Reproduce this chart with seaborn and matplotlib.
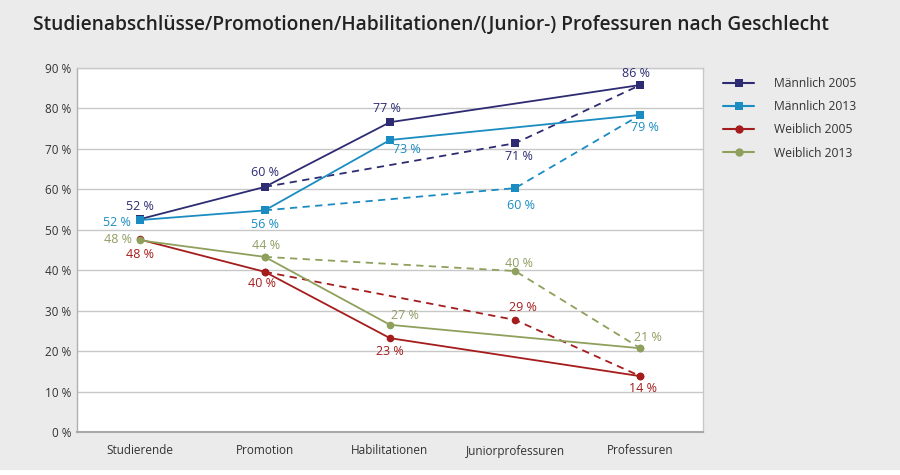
import matplotlib
matplotlib.use("Agg")
import matplotlib.pyplot as plt
from matplotlib.lines import Line2D
from matplotlib.patches import Rectangle
import seaborn as sns
import pandas as pd

# categories on the x axis
categories = ["Studierende", "Promotion", "Habilitationen", "Juniorprofessuren", "Professuren"]

# plotted values (%)
m2005 = [52.6, 60.6, 76.6, 71.4, 85.8]
m2013 = [52.4, 54.8, 72.2, 60.3, 78.4]
w2005 = [47.6, 39.6, 23.2, 27.7, 13.8]
w2013 = [47.4, 43.3, 26.5, 39.8, 20.7]

# printed data labels
m2005_lbl = [52, 60, 77, 71, 86]
m2013_lbl = [52, 56, 73, 60, 79]
w2005_lbl = [48, 40, 23, 29, 14]
w2013_lbl = [48, 44, 27, 40, 21]

series = ["Männlich 2005", "Männlich 2013", "Weiblich 2005", "Weiblich 2013"]
values = [m2005, m2013, w2005, w2013]
labels = [m2005_lbl, m2013_lbl, w2005_lbl, w2013_lbl]
colors = ["#2d2b72", "#1a8cc2", "#a51c1c", "#8fa05c"]
text_colors = ["#2d2b72", "#1a8cc2", "#a51c1c", "#8f9e62"]
markers = ["s", "s", "o", "o"]

# label offsets in pixels (dx, dy)
offsets = [
    [(0, 13), (0, 14), (-3, 14), (4, -13), (-4, 11)],
    [(-23, -2), (0, -14), (17, -10), (6, -17), (5, -13)],
    [(0, -15), (-3, -12), (0, -13), (8, 12), (3, -12)],
    [(-22, 1), (1, 11), (15, 9), (4, 8), (8, 11)],
]

solid_idx = [0, 1, 2, 4]
dashed_idx = [1, 3, 4]

sns.set_style("white")
plt.rcParams["font.family"] = ["Open Sans", "DejaVu Sans"]

fig = plt.figure(figsize=(9, 4.75), dpi=100, facecolor="#ebebeb")
fig.patches.append(Rectangle((0, 0), 1, 5 / 475, transform=fig.transFigure,
                             facecolor="white", edgecolor="none", zorder=0))
ax = fig.add_axes([77 / 900, 43 / 475, 626 / 900, 364 / 475])
ax.set_facecolor("white")

for name, vals, col, mk in zip(series, values, colors, markers):
    df = pd.DataFrame({"x": range(len(categories)), "y": vals})
    sns.lineplot(data=df.iloc[solid_idx], x="x", y="y", color=col, lw=1.3,
                 marker=mk, markersize=5.5, markeredgewidth=0, ax=ax, zorder=3)
    sns.lineplot(data=df.iloc[dashed_idx], x="x", y="y", color=col, lw=1.3,
                 dashes=False, ax=ax, zorder=2, marker=mk, markersize=5.5,
                 markeredgewidth=0).lines[-1].set_dashes((4, 3))

for vals, lbls, tcol, offs in zip(values, labels, text_colors, offsets):
    for i, (v, l) in enumerate(zip(vals, lbls)):
        ax.annotate(f"{l} %", (i, v), xytext=offs[i], textcoords="offset pixels",
                    ha="center", va="center", fontsize=9, color=tcol, zorder=4)

ax.set_xlim(-0.5, len(categories) - 0.5)
ax.set_ylim(0, 90)
ax.set_yticks(range(0, 91, 10))
ax.set_yticklabels([f"{t} %" for t in range(0, 91, 10)], fontsize=8.5, color="#333333")
ax.set_xticks([i + 0.5 for i in range(-1, len(categories))], minor=False)
ax.set_xticklabels([])
ax.set_xticks(range(len(categories)), minor=True)
ax.set_xticklabels(categories, minor=True, fontsize=8.5, color="#333333")
ax.tick_params(axis="x", which="major", length=8, width=0.8, color="#a0a0a0", direction="out")
ax.tick_params(axis="x", which="minor", length=0, pad=9)
ax.tick_params(axis="y", length=0, pad=4)
ax.set_xlabel("")
ax.set_ylabel("")
ax.yaxis.grid(True, color="#c8c8c8", lw=1)
ax.set_axisbelow(True)
for s in ax.spines.values():
    s.set_color("#c8c8c8")
    s.set_linewidth(1)
ax.spines["bottom"].set_color("#a8a8a8")
ax.spines["bottom"].set_linewidth(1.5)
ax.spines["left"].set_color("#b0b0b0")

handles = [Line2D([0], [0], color=c, lw=1.5, marker=m, markersize=6, markeredgewidth=0)
           for c, m in zip(colors, markers)]
fig.legend(handles, series, loc="upper left", bbox_to_anchor=(712 / 900, 1 - 66 / 475),
           frameon=False, fontsize=8.7, handlelength=2.6, labelspacing=0.85,
           handletextpad=1.6, labelcolor="#333333")

fig.text(33 / 900, 1 - 25 / 475, "Studienabschlüsse/Promotionen/Habilitationen/(Junior-) Professuren nach Geschlecht",
         fontsize=13.8, fontweight="semibold", color="#222222", va="center", ha="left")

fig.savefig("out.png", dpi=100, facecolor=fig.get_facecolor())
